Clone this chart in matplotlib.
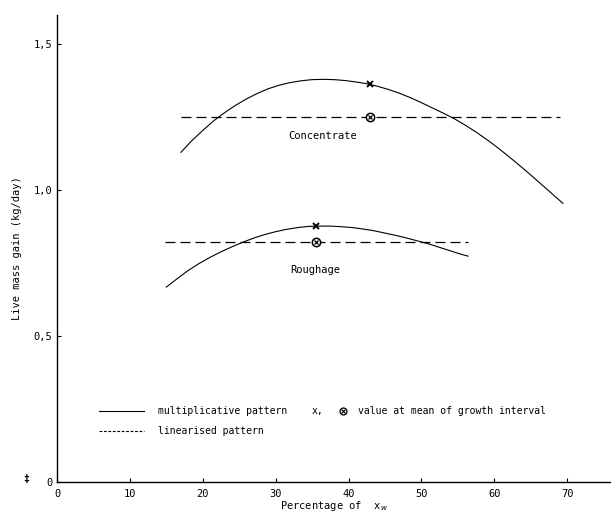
import matplotlib.pyplot as plt

# values
conc_x = [17, 18.5, 20, 21.5, 23, 24.5, 26, 27.5, 29, 30.5, 32, 33.5, 35, 36.5,
          38, 39.5, 41, 42.5, 44, 45.5, 47, 48.5, 50, 51.5, 53, 54.5, 56, 57.5,
          59, 60.5, 62, 63.5, 65, 66.5, 68, 69.4]
conc_y = [1.13, 1.17, 1.205, 1.238, 1.266, 1.291, 1.313, 1.332, 1.348, 1.36,
          1.369, 1.375, 1.379, 1.38, 1.379, 1.376, 1.371, 1.365, 1.356, 1.345,
          1.332, 1.317, 1.30, 1.282, 1.264, 1.245, 1.223, 1.199, 1.173, 1.145,
          1.115, 1.084, 1.052, 1.019, 0.986, 0.955]
conc_lin_x = [17, 69]
conc_lin_y = [1.25, 1.25]
conc_mean = 43

rough_x = [15, 16.5, 18, 19.5, 21, 22.5, 24, 25.5, 27, 28.5, 30, 31.5, 33, 34.5,
           36, 37.5, 39, 40.5, 42, 43.5, 45, 46.5, 48, 49.5, 51, 52.5, 54, 55.5,
           56.4]
rough_y = [0.668, 0.697, 0.725, 0.749, 0.77, 0.789, 0.806, 0.822, 0.836, 0.848,
           0.858, 0.866, 0.872, 0.876, 0.877, 0.877, 0.875, 0.872, 0.867, 0.861,
           0.853, 0.845, 0.836, 0.826, 0.816, 0.804, 0.792, 0.78, 0.774]
rough_lin_x = [14.8, 56.4]
rough_lin_y = [0.822, 0.822]
rough_mean = 35.5

x_ticks = [0, 10, 20, 30, 40, 50, 60, 70]
y_ticks = [0, 0.5, 1.0, 1.5]
y_labels = ['0', '0,5', '1,0', '1,5']

plt.rcParams['font.family'] = ['DejaVu Sans Mono']

fig = plt.figure(figsize=(6.11, 5.17), dpi=100)
ax = fig.add_axes([0.0933, 0.0677, 0.9067, 0.903])

dash = (0, (8, 4))
ax.plot(conc_x, conc_y, color='black', lw=0.8)
ax.plot(conc_lin_x, conc_lin_y, color='black', lw=0.9, linestyle=dash)
ax.plot(rough_x, rough_y, color='black', lw=0.8)
ax.plot(rough_lin_x, rough_lin_y, color='black', lw=0.9, linestyle=dash)

# values at mean of growth interval
ax.plot([conc_mean], [1.363], marker='x', color='black', ms=4, mew=1.4)
ax.plot([rough_mean], [0.877], marker='x', color='black', ms=4, mew=1.4)
for xm, ym in [(conc_mean, 1.25), (rough_mean, 0.822)]:
    ax.plot([xm], [ym], marker='o', ms=6, mfc='white', mec='black', mew=1.1)
    ax.plot([xm], [ym], marker='x', ms=3.5, color='black', mew=0.9)

ax.text(36.5, 1.185, 'Concentrate', fontsize=7.5, ha='center', va='center')
ax.text(35.4, 0.726, 'Roughage', fontsize=7.5, ha='center', va='center')

# hand-drawn style key
ax.plot([5.8, 12], [0.243, 0.243], color='black', lw=0.8)
ax.plot([5.8, 12], [0.175, 0.175], color='black', lw=0.8, linestyle=(0, (2.5, 1.5)))
ax.text(13.8, 0.243, 'multiplicative pattern', fontsize=7, va='center')
ax.text(35, 0.243, 'x,', fontsize=7, va='center')
ax.plot([39.3], [0.243], marker='o', ms=5, mfc='white', mec='black', mew=0.9)
ax.plot([39.3], [0.243], marker='x', ms=3, color='black', mew=0.8)
ax.text(41.3, 0.243, 'value at mean of growth interval', fontsize=7, va='center')
ax.text(13.8, 0.175, 'linearised pattern', fontsize=7, va='center')

ax.set_xlim(0, 76)
ax.set_ylim(0, 1.6)
ax.set_xticks(x_ticks)
ax.set_yticks(y_ticks)
ax.set_yticklabels(y_labels)
ax.tick_params(direction='in', length=3, width=0.8, labelsize=7.5)
ax.tick_params(axis='x', pad=5)
for s in ['top', 'right']:
    ax.spines[s].set_visible(False)
ax.spines['left'].set_linewidth(1.0)
ax.spines['bottom'].set_linewidth(1.0)

ax.set_xlabel('Percentage of  x$_w$', fontsize=7.5, labelpad=0)
ax.set_ylabel('Live mass gain (kg/day)', fontsize=7.5, labelpad=8)
ax.text(-4.2, 0.01, '\u2021', fontsize=7, ha='center', va='center', fontweight='bold')

fig.savefig('out.png', dpi=100)
